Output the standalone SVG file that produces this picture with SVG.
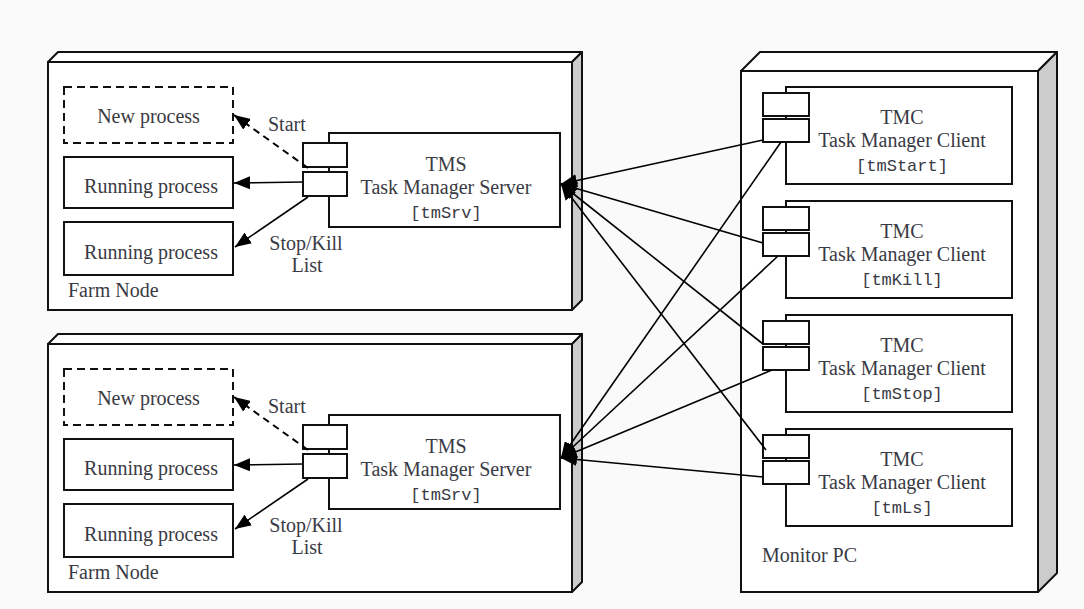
<svg xmlns="http://www.w3.org/2000/svg" width="1084" height="609" viewBox="0 0 1084 609">
<style>
.bg{fill:#fafafa}
.front{fill:#fff;stroke:#111;stroke-width:2}
.top{fill:#fff;stroke:#111;stroke-width:2;stroke-linejoin:round}
.side{fill:#ccc;stroke:#111;stroke-width:2;stroke-linejoin:round}
.box{fill:#fff;stroke:#111;stroke-width:2}
.dbox{fill:#fff;stroke:#111;stroke-width:2;stroke-dasharray:8,5}
.port{fill:#fff;stroke:#111;stroke-width:2}
.t{font-family:"Liberation Serif","Times New Roman",serif;font-size:20px;fill:#3a3a44}
.m{font-family:"Liberation Mono","Courier New",monospace;font-size:17px;fill:#3a3a44}
.c{text-anchor:middle}
.ln{stroke:#000;stroke-width:1.6;fill:none}
.dash{stroke-dasharray:7,5;stroke-width:2}
</style>
<defs>
<marker id="ah" markerUnits="userSpaceOnUse" markerWidth="17" markerHeight="13" refX="16" refY="6.5" orient="auto">
<path d="M0,0 L16,6.5 L0,13 z" fill="#000"/>
</marker>
</defs>
<rect class="bg" x="0" y="0" width="1084" height="609"/>

<g id="farm-node-1">
<polygon class="top" points="48,62 58,52 582,52 572,62"/>
<polygon class="side" points="572,62 582,52 582,300 572,310"/>
<rect class="front" x="48" y="62" width="524" height="248"/>
<text class="t" x="68" y="297">Farm Node</text>
</g>
<g id="new-process-1">
<rect class="dbox" x="64" y="87" width="169" height="56"/>
<text class="t c" x="148.5" y="123">New process</text>
</g>
<g id="running-process-1a">
<rect class="box" x="64" y="157" width="169" height="51"/>
<text class="t c" x="151" y="193">Running process</text>
</g>
<g id="running-process-1b">
<rect class="box" x="64" y="222" width="169" height="53"/>
<text class="t c" x="151" y="259">Running process</text>
</g>
<g id="tms-1">
<rect class="box" x="329" y="133" width="231" height="94"/>
<rect class="port" x="303" y="143" width="44" height="24"/>
<rect class="port" x="303" y="172" width="44" height="24"/>
<text class="t c" x="446" y="171">TMS</text>
<text class="t c" x="446" y="194">Task Manager Server</text>
<text class="m c" x="446" y="218">[tmSrv]</text>
</g>

<g id="farm-node-2">
<polygon class="top" points="48,344 58,334 582,334 572,344"/>
<polygon class="side" points="572,344 582,334 582,582 572,592"/>
<rect class="front" x="48" y="344" width="524" height="248"/>
<text class="t" x="68" y="579">Farm Node</text>
</g>
<g id="new-process-2">
<rect class="dbox" x="64" y="369" width="169" height="56"/>
<text class="t c" x="148.5" y="405">New process</text>
</g>
<g id="running-process-2a">
<rect class="box" x="64" y="439" width="169" height="51"/>
<text class="t c" x="151" y="475">Running process</text>
</g>
<g id="running-process-2b">
<rect class="box" x="64" y="504" width="169" height="53"/>
<text class="t c" x="151" y="541">Running process</text>
</g>
<g id="tms-2">
<rect class="box" x="329" y="415" width="231" height="94"/>
<rect class="port" x="303" y="425" width="44" height="24"/>
<rect class="port" x="303" y="454" width="44" height="24"/>
<text class="t c" x="446" y="453">TMS</text>
<text class="t c" x="446" y="476">Task Manager Server</text>
<text class="m c" x="446" y="500">[tmSrv]</text>
</g>

<g id="monitor-pc">
<polygon class="top" points="741,71 760,52 1057,52 1038,71"/>
<polygon class="side" points="1038,71 1057,52 1057,573 1038,592"/>
<rect class="front" x="741" y="71" width="297" height="521"/>
<text class="t" x="762" y="562">Monitor PC</text>
</g>
<g id="tmc-start">
<rect class="box" x="786" y="87" width="226" height="97"/>
<rect class="port" x="763" y="93" width="46" height="23"/>
<rect class="port" x="763" y="119" width="46" height="23"/>
<text class="t c" x="902" y="124">TMC</text>
<text class="t c" x="902" y="147">Task Manager Client</text>
<text class="m c" x="902" y="171">[tmStart]</text>
</g>
<g id="tmc-kill">
<rect class="box" x="786" y="201" width="226" height="97"/>
<rect class="port" x="763" y="207" width="46" height="23"/>
<rect class="port" x="763" y="233" width="46" height="23"/>
<text class="t c" x="902" y="238">TMC</text>
<text class="t c" x="902" y="261">Task Manager Client</text>
<text class="m c" x="902" y="285">[tmKill]</text>
</g>
<g id="tmc-stop">
<rect class="box" x="786" y="315" width="226" height="97"/>
<rect class="port" x="763" y="321" width="46" height="23"/>
<rect class="port" x="763" y="347" width="46" height="23"/>
<text class="t c" x="902" y="352">TMC</text>
<text class="t c" x="902" y="375">Task Manager Client</text>
<text class="m c" x="902" y="399">[tmStop]</text>
</g>
<g id="tmc-ls">
<rect class="box" x="786" y="429" width="226" height="97"/>
<rect class="port" x="763" y="435" width="46" height="23"/>
<rect class="port" x="763" y="461" width="46" height="23"/>
<text class="t c" x="902" y="466">TMC</text>
<text class="t c" x="902" y="489">Task Manager Client</text>
<text class="m c" x="902" y="513">[tmLs]</text>
</g>

<g id="connectors">
<line class="ln dash" x1="308" y1="168" x2="234" y2="115" marker-end="url(#ah)"/>
<line class="ln" x1="303" y1="182" x2="234" y2="183" marker-end="url(#ah)"/>
<line class="ln" x1="308" y1="197" x2="235" y2="247" marker-end="url(#ah)"/>
<line class="ln dash" x1="308" y1="450" x2="234" y2="397" marker-end="url(#ah)"/>
<line class="ln" x1="303" y1="464" x2="234" y2="465" marker-end="url(#ah)"/>
<line class="ln" x1="308" y1="479" x2="235" y2="529" marker-end="url(#ah)"/>

<line class="ln" x1="763" y1="140" x2="561" y2="184" marker-end="url(#ah)"/>
<line class="ln" x1="763" y1="243" x2="561" y2="184" marker-end="url(#ah)"/>
<line class="ln" x1="763" y1="344" x2="561" y2="184" marker-end="url(#ah)"/>
<line class="ln" x1="766" y1="450" x2="561" y2="184" marker-end="url(#ah)"/>

<line class="ln" x1="781" y1="142" x2="561" y2="458" marker-end="url(#ah)"/>
<line class="ln" x1="778" y1="256" x2="561" y2="458" marker-end="url(#ah)"/>
<line class="ln" x1="772" y1="370" x2="561" y2="458" marker-end="url(#ah)"/>
<line class="ln" x1="763" y1="477" x2="561" y2="458" marker-end="url(#ah)"/>
</g>

<g id="labels">
<text class="t" x="268" y="131">Start</text>
<text class="t c" x="306" y="250">Stop/Kill</text>
<text class="t c" x="307" y="272">List</text>
<text class="t" x="268" y="413">Start</text>
<text class="t c" x="306" y="532">Stop/Kill</text>
<text class="t c" x="307" y="554">List</text>
</g>
</svg>
